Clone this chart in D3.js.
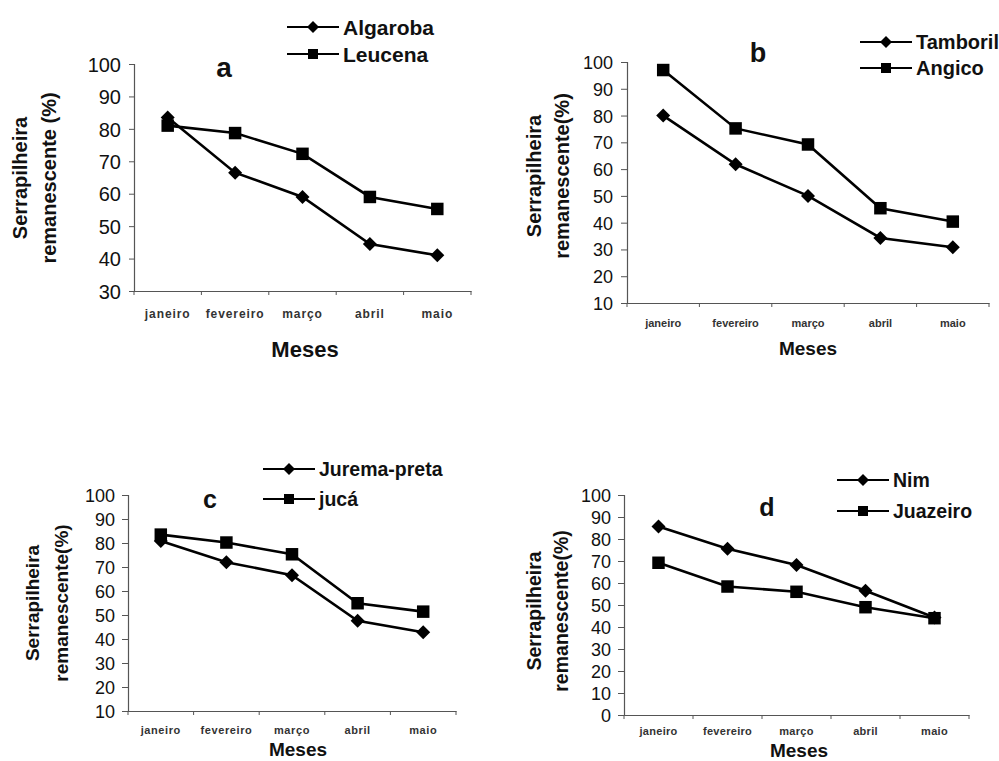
<!DOCTYPE html>
<html>
<head>
<meta charset="utf-8">
<script src="https://cdn.jsdelivr.net/npm/d3@7"></script>
<style>
  body { margin: 0; background: #fff; }
  text { font-family: "Liberation Sans", Arial, sans-serif; }
</style>
</head>
<body>
<svg id="chart" width="999" height="761"></svg>
<script>
// data (% litter remaining per month)
const months = ['janeiro', 'fevereiro', 'março', 'abril', 'maio'];

const algaroba    = [83.5, 66.5, 59.0, 44.5, 41.0];
const leucena     = [81.0, 78.7, 72.3, 59.0, 55.3];
const tamboril    = [80.0, 61.8, 50.0, 34.3, 30.8];
const angico      = [97.0, 75.2, 69.2, 45.4, 40.4];
const juremaPreta = [80.8, 72.0, 66.6, 47.6, 42.8];
const juca        = [83.5, 80.2, 75.3, 54.9, 51.4];
const nim         = [85.7, 75.6, 68.2, 56.5, 44.3];
const juazeiro    = [69.2, 58.4, 56.0, 49.0, 44.0];

const ticksA = [30, 40, 50, 60, 70, 80, 90, 100];
const ticksB = [10, 20, 30, 40, 50, 60, 70, 80, 90, 100];
const ticksC = [10, 20, 30, 40, 50, 60, 70, 80, 90, 100];
const ticksD = [0, 10, 20, 30, 40, 50, 60, 70, 80, 90, 100];

const svg = d3.select('#chart');
svg.append('rect').attr('width', 999).attr('height', 761).attr('fill', '#fff');

// one panel = axes, two series, legend, letter and titles
function drawPanel(p){
  const g = svg.append('g');

  const x = d3.scaleBand().domain(months).range([p.x0, p.x1]).paddingInner(0).paddingOuter(0);
  const y = d3.scaleLinear().domain([p.ticks[0], p.ticks[p.ticks.length-1]]).range([p.y0, p.y1]);
  const cx = m => x(m) + x.bandwidth()/2;

  // y axis
  const ya = g.append('g')
    .attr('transform', `translate(${p.x0},0)`)
    .call(d3.axisLeft(y).tickValues(p.ticks).tickSize(p.tickSize).tickPadding(p.tickPad).tickFormat(d3.format('d')));
  ya.select('.domain').attr('stroke', '#555').attr('stroke-width', 1.2);
  ya.selectAll('.tick line').attr('stroke', '#555');
  ya.selectAll('.tick text')
    .attr('font-size', p.yFont).attr('fill', '#111')
    .attr('font-family', '"Liberation Sans", Arial, sans-serif')
    .attr('dy', '0.36em');

  // x axis: labels centred in bands, ticks on band edges
  const xa = g.append('g')
    .attr('transform', `translate(0,${p.y0})`)
    .call(d3.axisBottom(x).tickSize(0).tickPadding(p.xLabPad));
  xa.select('.domain').attr('stroke', '#555').attr('stroke-width', 1.2);
  xa.selectAll('.tick text')
    .attr('font-size', p.xFont).attr('font-weight', 'bold')
    .attr('letter-spacing', p.xSpacing).attr('fill', '#333')
    .attr('font-family', '"Liberation Sans", Arial, sans-serif');
  const edges = months.map(m => x(m)).concat([x.range()[1]]);
  g.selectAll('line.xt').data(edges).enter().append('line')
    .attr('x1', d => d).attr('x2', d => d)
    .attr('y1', p.y0).attr('y2', p.y0 + 4)
    .attr('stroke', '#555');

  // series
  const line = d3.line().x((d, i) => cx(months[i])).y(d => y(d));
  const sqBig = d3.symbol().type(d3.symbolSquare).size(156);
  const dmBig = d3.symbol().type(d3.symbolSquare).size(98);

  p.series.forEach(s => {
    g.append('path').datum(s.values)
      .attr('d', line).attr('fill', 'none')
      .attr('stroke', '#000').attr('stroke-width', 2.6);
  });
  p.series.forEach(s => {
    g.selectAll(null).data(s.values).enter().append('path')
      .attr('d', s.shape === 'square' ? sqBig : dmBig)
      .attr('transform', (d, i) => `translate(${cx(months[i])},${y(d)})` + (s.shape === 'square' ? '' : ' rotate(45)'))
      .attr('fill', '#000');
  });

  // legend
  const sqSmall = d3.symbol().type(d3.symbolSquare).size(100);
  const dmSmall = d3.symbol().type(d3.symbolSquare).size(72);
  p.series.forEach((s, i) => {
    const ly = p.legY[i];
    g.append('line').attr('x1', p.legX).attr('x2', p.legX + 52)
      .attr('y1', ly).attr('y2', ly).attr('stroke', '#000').attr('stroke-width', 2.2);
    g.append('path')
      .attr('d', s.shape === 'square' ? sqSmall : dmSmall)
      .attr('transform', `translate(${p.legX + 26},${ly})` + (s.shape === 'square' ? '' : ' rotate(45)'))
      .attr('fill', '#000');
    g.append('text').text(s.name)
      .attr('x', p.legX + 56).attr('y', ly + p.legFont*0.36)
      .attr('font-size', p.legFont).attr('font-weight', 'bold').attr('fill', '#111');
  });

  // panel letter
  g.append('text').text(p.letter)
    .attr('x', p.letterX).attr('y', p.letterY)
    .attr('text-anchor', 'middle')
    .attr('font-size', p.letterFont).attr('font-weight', 'bold').attr('fill', '#111');

  // x title
  g.append('text').text('Meses')
    .attr('x', p.mesesX).attr('y', p.mesesY)
    .attr('text-anchor', 'middle')
    .attr('font-size', p.mesesFont).attr('font-weight', 'bold').attr('fill', '#111');

  // y title, two rotated lines
  p.yTitle.forEach((t, i) => {
    g.append('text').text(t)
      .attr('transform', `translate(${p.yTitleX[i]},${p.yTitleY}) rotate(-90)`)
      .attr('text-anchor', 'middle')
      .attr('font-size', p.yTitleFont).attr('font-weight', 'bold').attr('fill', '#111');
  });
}

drawPanel({
  x0: 134, x1: 471, y0: 291, y1: 64, ticks: ticksA,
  tickSize: 5, tickPad: 8, yFont: 20,
  xLabPad: 18, xFont: 12, xSpacing: 0.9,
  series: [
    { name: 'Algaroba', values: algaroba, shape: 'diamond' },
    { name: 'Leucena',  values: leucena,  shape: 'square' }
  ],
  legX: 287, legY: [27, 54], legFont: 21,
  letter: 'a', letterX: 224, letterY: 77, letterFont: 28,
  mesesX: 305, mesesY: 357, mesesFont: 22,
  yTitle: ['Serrapilheira', 'remanescente (%)'], yTitleX: [27, 56], yTitleY: 178, yTitleFont: 20
});

drawPanel({
  x0: 627, x1: 989, y0: 303, y1: 62, ticks: ticksB,
  tickSize: 6, tickPad: 8, yFont: 18,
  xLabPad: 16, xFont: 11, xSpacing: 0,
  series: [
    { name: 'Tamboril', values: tamboril, shape: 'diamond' },
    { name: 'Angico',   values: angico,   shape: 'square' }
  ],
  legX: 860, legY: [42, 68], legFont: 20,
  letter: 'b', letterX: 758, letterY: 62, letterFont: 27,
  mesesX: 808, mesesY: 355, mesesFont: 19,
  yTitle: ['Serrapilheira', 'remanescente(%)'], yTitleX: [541, 569], yTitleY: 176, yTitleFont: 20
});

drawPanel({
  x0: 128, x1: 456, y0: 711, y1: 495, ticks: ticksC,
  tickSize: 6, tickPad: 7, yFont: 18,
  xLabPad: 15, xFont: 11, xSpacing: 0.6,
  series: [
    { name: 'Jurema-preta', values: juremaPreta, shape: 'diamond' },
    { name: 'jucá',         values: juca,        shape: 'square' }
  ],
  legX: 263, legY: [469, 499], legFont: 19.5,
  letter: 'c', letterX: 210, letterY: 508, letterFont: 25,
  mesesX: 298, mesesY: 756, mesesFont: 19,
  yTitle: ['Serrapilheira', 'remanescente(%)'], yTitleX: [39, 68], yTitleY: 603, yTitleFont: 19
});

drawPanel({
  x0: 624, x1: 969, y0: 715, y1: 495, ticks: ticksD,
  tickSize: 6, tickPad: 7, yFont: 18,
  xLabPad: 12, xFont: 11, xSpacing: 0.3,
  series: [
    { name: 'Nim',      values: nim,      shape: 'diamond' },
    { name: 'Juazeiro', values: juazeiro, shape: 'square' }
  ],
  legX: 837, legY: [480, 511], legFont: 19.5,
  letter: 'd', letterX: 767, letterY: 516, letterFont: 25,
  mesesX: 799, mesesY: 757, mesesFont: 19,
  yTitle: ['Serrapilheira', 'remanescente(%)'], yTitleX: [541, 568], yTitleY: 611, yTitleFont: 19.5
});
</script>
</body>
</html>
